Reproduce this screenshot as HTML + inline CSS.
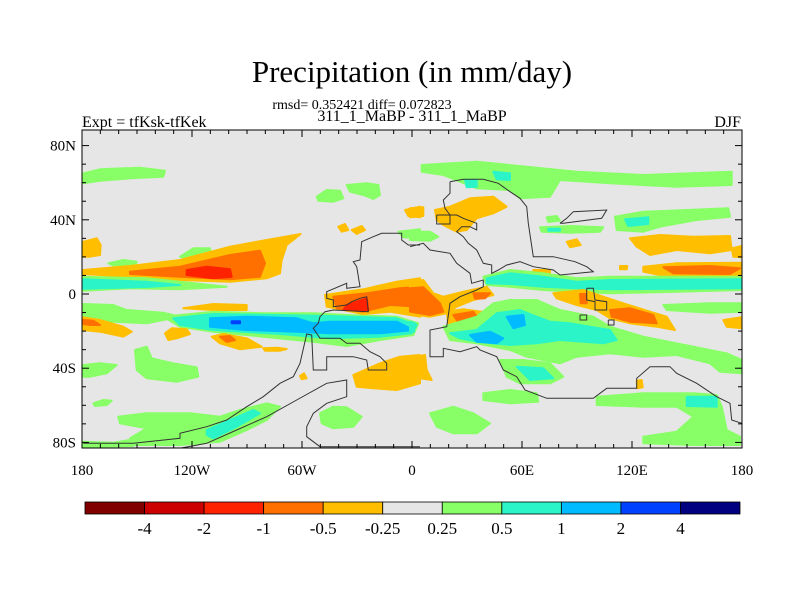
<!DOCTYPE html>
<html><head><meta charset="utf-8">
<style>
html,body{margin:0;padding:0;background:#fff;}
svg{display:block;font-family:"Liberation Serif",serif;}
</style></head>
<body>
<svg id="chart" width="800" height="600" viewBox="0 0 800 600">
  <text x="412" y="82" font-size="31" text-anchor="middle">Precipitation (in mm/day)</text>
  <text x="362" y="109" font-size="14" text-anchor="middle">rmsd= 0.352421 diff= 0.072823</text>
  <text x="412" y="121" font-size="16" text-anchor="middle">311_1_MaBP - 311_1_MaBP</text>
  <text x="82" y="127" font-size="16">Expt = tfKsk-tfKek</text>
  <text x="741" y="127" font-size="16" text-anchor="end">DJF</text>
  <defs><clipPath id="mapclip"><rect x="82" y="130" width="660" height="318"/></clipPath></defs>
  <rect x="82" y="130" width="660" height="318" fill="#e6e6e6"/>
  <g id="fields" clip-path="url(#mapclip)"></g>
  <g id="coast" clip-path="url(#mapclip)"></g>
  <rect x="82" y="130" width="660" height="318" fill="none" stroke="#000" stroke-width="1"/>
  <g id="axes"></g>
  <g id="colorbar"></g>
</svg>
<script>
// ---- colour bar data ----
const levelLabels = ["-4","-2","-1","-0.5","-0.25","0.25","0.5","1","2","4"];
const levelColors = ["#800000","#cc0000","#ff2200","#ff7000","#ffbf00","#e6e6e6","#88ff66","#2bf5c8","#00bbff","#0040ff","#000080"];
// ---- axis tick data ----
const lonTicks = [-180,-120,-60,0,60,120,180];
const lonTickLabels = ["180","120W","60W","0","60E","120E","180"];
const latTicks = [80,40,0,-40,-80];
const latTickLabels = ["80N","40N","0","40S","80S"];

// ---- digitised contour regions: [levelIndex, panel(0=west,1=east), [X,Y,...] in digitiser grid] ----
const fieldShapes = [
 [6,0,[10,130,60,118,180,113,255,122,250,140,150,145,60,152,10,160]],
 [6,0,[710,200,740,180,780,182,790,205,760,215,715,212]],
 [6,0,[800,165,860,160,895,165,900,195,880,207,850,195,810,185]],
 [4,0,[975,240,1020,230,1020,262,985,258]],
 [4,0,[775,290,795,282,805,300,785,305]],
 [4,0,[815,300,845,288,855,300,830,312]],
 [6,0,[955,305,1020,298,1020,325,970,322]],
 [6,0,[300,380,340,355,390,355,395,380,350,390]],
 [6,0,[85,400,130,390,170,395,165,410,110,410]],
 [4,0,[10,335,50,325,62,345,60,375,30,380,10,380]],
 [4,0,[10,420,150,408,300,390,450,350,560,330,662,312,620,345,605,390,600,430,560,445,450,455,300,450,150,440,10,432]],
 [3,0,[150,425,300,410,450,375,540,362,555,400,540,440,450,448,300,440,150,432]],
 [2,0,[320,420,380,410,450,418,455,440,400,445,320,435]],
 [6,0,[10,440,200,445,300,455,440,470,300,478,150,475,10,482]],
 [7,0,[10,448,200,455,300,465,200,471,10,476]],
 [6,0,[10,522,100,525,140,540,250,548,300,560,200,580,100,575,10,570]],
 [4,0,[310,535,400,522,500,525,500,540,400,540]],
 [6,0,[250,560,400,545,550,550,700,550,800,555,950,560,1015,580,1000,615,900,630,800,648,700,635,550,620,400,605,300,590]],
 [7,0,[280,565,400,552,600,555,750,558,950,565,1010,585,995,610,900,620,750,625,600,612,400,600,300,585]],
 [8,0,[390,565,500,560,650,565,700,580,750,575,950,575,1000,600,900,610,750,610,650,605,500,600,390,590]],
 [9,0,[455,574,480,574,480,580,455,580]],
 [4,0,[735,495,850,478,950,455,1020,445,1020,560,930,545,850,552,740,530]],
 [3,0,[760,500,860,490,960,475,1020,470,1020,530,930,525,850,545,770,535]],
 [2,0,[800,525,860,505,865,540,790,540]],
 [4,0,[10,562,60,570,130,590,155,605,130,620,60,605,10,600]],
 [3,0,[10,570,40,572,60,585,30,585,10,582]],
 [4,0,[255,610,275,595,320,598,330,612,290,625,265,630]],
 [4,0,[395,620,430,612,500,625,545,650,480,658,420,640]],
 [3,0,[420,620,450,618,465,630,440,636]],
 [4,0,[550,655,590,653,620,657,600,662,555,662]],
 [6,0,[165,660,200,650,215,685,280,700,350,712,355,740,290,755,200,745,170,720]],
 [6,0,[10,705,60,700,110,705,80,730,30,740,10,740]],
 [4,0,[820,735,900,700,960,680,1020,675,1020,760,950,780,880,775,830,770]],
 [4,0,[660,738,672,730,680,745,665,748]],
 [6,0,[720,850,760,830,800,832,845,860,820,890,760,895,725,880]],
 [6,0,[40,820,70,810,95,812,80,825,45,828]],
 [6,0,[115,860,200,850,330,850,420,860,480,840,560,820,600,830,560,870,500,900,420,935,300,945,160,945,150,925,200,895,120,880]],
 [7,0,[380,900,450,870,520,840,540,850,470,890,400,925,380,915]],
 [6,0,[10,935,100,938,150,930,160,948,10,950]],
 // east panel
 [6,1,[35,105,200,95,350,110,500,125,700,135,965,125,965,165,800,170,600,160,450,150,420,200,330,205,300,180,200,175,100,135,35,125]],
 [7,1,[250,125,300,130,300,150,260,148]],
 [7,1,[165,150,200,150,200,170,170,172]],
 [4,1,[75,240,120,230,180,205,250,200,290,230,250,250,200,265,170,300,140,305,100,285,80,270]],
 [4,1,[0,235,40,232,40,258,0,262]],
 [6,1,[0,305,60,305,85,320,60,332,0,330]],
 [6,1,[410,262,440,258,450,272,415,276]],
 [6,1,[390,292,480,288,580,292,570,305,480,308,395,305]],
 [7,1,[415,296,450,296,450,302,415,302]],
 [6,1,[615,260,700,245,830,240,955,235,960,260,860,270,750,290,700,305,620,300]],
 [7,1,[645,268,715,262,715,282,655,288]],
 [4,1,[470,335,500,328,512,345,480,352]],
 [4,1,[660,325,750,315,850,320,960,318,965,360,900,370,800,360,720,375,680,350]],
 [4,1,[965,355,995,348,995,382,970,380]],
 [4,1,[700,410,800,400,995,398,995,435,900,440,750,435,700,425]],
 [3,1,[760,412,900,408,990,415,960,432,790,430]],
 [4,1,[370,420,420,420,420,432,370,430]],
 [4,1,[630,408,652,408,650,418,630,418]],
 [6,1,[220,440,300,420,400,430,500,445,600,440,800,440,995,440,995,480,800,485,600,490,500,485,400,480,300,470,230,465]],
 [7,1,[230,445,300,430,400,440,500,455,600,450,995,448,995,475,600,478,500,475,400,470,300,462,230,460]],
 [4,1,[0,455,40,450,70,490,100,500,160,485,230,470,250,495,190,510,140,530,110,550,60,560,0,552]],
 [3,1,[0,475,40,472,90,520,100,545,60,555,0,545]],
 [3,1,[190,490,240,490,225,505,195,506]],
 [4,1,[110,545,160,538,215,545,240,575,220,590,160,590,115,580]],
 [3,1,[130,555,190,545,215,580,150,585]],
 [4,1,[430,490,520,480,580,500,640,520,720,545,770,560,795,600,740,590,660,580,600,565,560,540,500,525,440,505]],
 [3,1,[600,540,660,535,730,555,740,580,660,575,605,560]],
 [3,1,[510,492,528,492,530,520,512,520]],
 [4,1,[940,570,995,562,995,595,950,590]],
 [6,1,[760,525,900,520,995,520,995,545,900,548,770,540]],
 [6,1,[100,590,200,560,250,520,300,510,380,510,450,540,550,560,600,590,700,620,800,640,950,670,995,690,995,730,930,725,900,700,800,675,700,680,600,670,500,680,450,700,400,690,350,680,300,660,250,650,200,640,120,630]],
 [7,1,[120,610,200,600,260,550,330,540,380,560,420,575,480,580,540,590,600,600,620,630,580,640,520,635,450,630,380,640,300,645,200,635,150,625]],
 [8,1,[290,560,340,555,345,585,310,595]],
 [8,1,[180,615,240,605,280,625,260,640,200,635]],
 [7,1,[0,575,15,580,12,605,0,605]],
 [4,1,[20,680,45,675,50,720,65,750,30,745,0,745,0,700]],
 [6,1,[270,690,340,690,420,700,460,740,420,760,330,760,290,740]],
 [7,1,[320,710,400,715,430,745,360,750]],
 [6,1,[220,790,300,780,380,790,385,815,300,820,220,810]],
 [6,1,[560,800,700,790,850,790,920,795,935,830,950,900,990,920,990,945,850,945,700,940,700,920,800,905,850,860,800,830,700,830,560,825]],
 [7,1,[830,800,920,800,920,830,830,828]],
 [6,1,[60,850,130,830,190,850,240,880,200,910,130,910,80,890]],
 [4,1,[680,752,695,750,698,772,682,775]]
];
// ---- digitised land outlines ----
const coastLines = [
 [0,[1020,345,985,345,965,330,965,310,905,310,880,320,845,335,840,390,820,395,830,410,840,470,800,475,800,460,740,485,740,505,760,510,760,530,800,525,815,515,840,505,860,500,865,545,760,540,735,545,720,560,715,580,700,595,720,625,780,625,800,640,840,640,870,665,900,680,920,700,920,720,865,720,860,690,820,680,740,680,740,720,700,720,695,615,680,612,660,700,640,740,600,760,550,800,500,830,440,870,380,890,300,910,300,925,160,940,10,940]],
 [0,[10,955,300,955,380,940,470,900,560,860,650,810,740,760,800,750,800,800,740,820,700,850,680,890,680,920,720,950,1020,950]],
 [1,[0,350,40,340,60,360,120,370,140,400,180,430,185,460,220,450,220,470,200,480,150,500,120,520,110,590,60,600,60,680,100,680,100,655,150,665,200,650,210,660,260,680,280,720,320,740,345,780,410,805,550,805,590,775,680,775,680,745,720,710,780,710,800,730,860,760,920,800,960,820,965,870,995,880]],
 [1,[120,155,160,148,220,148,265,160,300,185,330,205,350,230,355,280,370,380,430,380,495,395,530,410,550,425,450,435,430,420,370,410,330,395,290,405,265,420,245,430,245,405,220,400,200,360,175,340,160,320,140,305,155,290,180,290,200,300,200,280,160,265,140,255,120,255,105,235,100,210,120,190,120,155]],
 [1,[80,255,120,255,120,282,80,282,80,255]],
 [1,[450,280,470,265,490,245,590,240,575,265,460,280,450,280]],
 [1,[530,475,550,475,555,510,590,515,590,540,555,540,555,515,530,510,530,475]],
 [1,[510,555,530,555,530,570,510,570,510,555]],
 [1,[595,570,612,570,612,585,595,585,595,570]]
];

// ---- axis functions ----
function xOf(lon){ return 412 + lon*1.8333; }
function yOf(lat){ return 294 - lat*1.855; }
// digitiser grid -> lon/lat
function gridToLonLat(panel,X,Y){
  const px = (panel===0?80:410) + X/3, py = 130 + Y/3;
  return [(px-412)/1.8333, (294-py)/1.855];
}
const NS="http://www.w3.org/2000/svg";
function mk(tag,attrs,parent){const e=document.createElementNS(NS,tag);for(const k in attrs)e.setAttribute(k,attrs[k]);parent.appendChild(e);return e;}

const fields=document.getElementById('fields');
fieldShapes.forEach((s,i)=>{
  const [lev,panel,pts]=s; const out=[];
  for(let j=0;j<pts.length;j+=2){const ll=gridToLonLat(panel,pts[j],pts[j+1]);out.push(xOf(ll[0]).toFixed(1)+","+yOf(ll[1]).toFixed(1));}
  const p=mk('polygon',{points:out.join(' '),fill:levelColors[lev],stroke:levelColors[lev],'stroke-width':2,'stroke-linejoin':'round'},fields);
  
  
});
const coast=document.getElementById('coast');
coastLines.forEach((c,i)=>{
  const [panel,pts]=c; const out=[];
  for(let j=0;j<pts.length;j+=2){const ll=gridToLonLat(panel,pts[j],pts[j+1]);out.push(xOf(ll[0]).toFixed(1)+","+yOf(ll[1]).toFixed(1));}
  const p=mk('polyline',{points:out.join(' '),fill:'none',stroke:'#333','stroke-width':1},coast);
  
  
});

// ---- axes ----
const axes=document.getElementById('axes');
for(let lon=-180;lon<=180;lon+=10){
  const x=xOf(lon), L=(lon%60===0)?7:4;
  mk('line',{x1:x,y1:130,x2:x,y2:130+L,stroke:'#000'},axes);
  mk('line',{x1:x,y1:448,x2:x,y2:448-L,stroke:'#000'},axes);
}
for(let lat=-80;lat<=80;lat+=10){
  const y=yOf(lat), L=(lat%40===0)?7:4;
  mk('line',{x1:82,y1:y,x2:82+L,y2:y,stroke:'#000'},axes);
  mk('line',{x1:742,y1:y,x2:742-L,y2:y,stroke:'#000'},axes);
}
lonTicks.forEach((lon,i)=>{
  const t=mk('text',{x:xOf(lon),y:475,'font-size':15,'text-anchor':'middle'},axes);
  t.textContent=lonTickLabels[i];
  
  
});
latTicks.forEach((lat,i)=>{
  const t=mk('text',{x:76,y:yOf(lat)+5,'font-size':15,'text-anchor':'end'},axes);
  t.textContent=latTickLabels[i];
  
  
});

// ---- colorbar ----
const cb=document.getElementById('colorbar');
const cbX=85, cbW=655, cbY=502, cbH=12, bw=cbW/levelColors.length;
levelColors.forEach((c,i)=>{
  const r=mk('rect',{x:cbX+i*bw,y:cbY,width:bw,height:cbH,fill:c,stroke:'#000','stroke-width':0.8},cb);
  
  
});
levelLabels.forEach((l,i)=>{
  const t=mk('text',{x:cbX+(i+1)*bw,y:534,'font-size':17,'text-anchor':'middle'},cb);
  t.textContent=l;
  
  
});
</script>
</body></html>
